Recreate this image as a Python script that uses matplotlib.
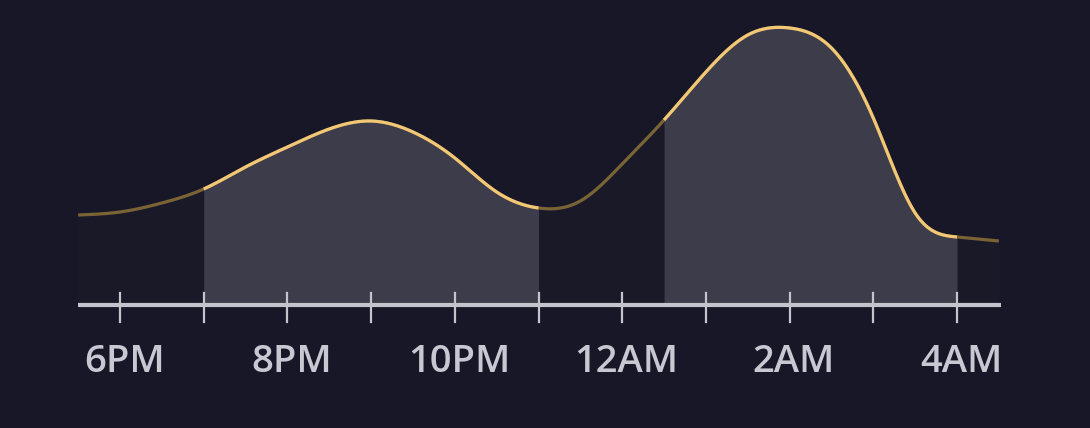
import numpy as np
import matplotlib
matplotlib.use("Agg")
import matplotlib.pyplot as plt

# hours since midnight of the first day (24 = 12AM), every half hour
hours = [17.5, 18, 18.5, 19, 19.5, 20, 20.5, 21, 21.5, 22, 22.5, 23,
         23.5, 24, 24.5, 25, 25.5, 26, 26.5, 27, 27.5, 28, 28.5]
values = [90, 93, 102, 116, 138, 158, 176, 184, 173, 147, 113, 97,
          104, 141, 185, 233, 270, 277, 257, 187, 92, 68, 64]

highlights = [(19, 23), (24.5, 28)]
tick_hours = [18, 19, 20, 21, 22, 23, 24, 25, 26, 27, 28]
label_hours = [18, 20, 22, 24, 26, 28]
labels = ["6PM", "8PM", "10PM", "12AM", "2AM", "4AM"]

bg = "#171727"
gold = "#f2c877"
gold_dim = "#7a6435"


def natural_spline(x, y, n=40):
    # natural cubic spline, only used to draw a smooth line
    x = np.asarray(x, float)
    y = np.asarray(y, float)
    k = len(x)
    h = np.diff(x)
    A = np.zeros((k, k))
    r = np.zeros(k)
    A[0, 0] = A[-1, -1] = 1
    for i in range(1, k - 1):
        A[i, i - 1] = h[i - 1]
        A[i, i] = 2 * (h[i - 1] + h[i])
        A[i, i + 1] = h[i]
        r[i] = 6 * ((y[i + 1] - y[i]) / h[i] - (y[i] - y[i - 1]) / h[i - 1])
    M = np.linalg.solve(A, r)
    xs, ys = [], []
    for i in range(k - 1):
        t = np.linspace(x[i], x[i + 1], n, endpoint=False)
        a = x[i + 1] - t
        b = t - x[i]
        yy = (M[i] * a ** 3 + M[i + 1] * b ** 3) / (6 * h[i]) \
            + (y[i] / h[i] - M[i] * h[i] / 6) * a \
            + (y[i + 1] / h[i] - M[i + 1] * h[i] / 6) * b
        xs.append(t)
        ys.append(yy)
    xs.append([x[-1]])
    ys.append([y[-1]])
    return np.concatenate(xs), np.concatenate(ys)


sx, sy = natural_spline(hours, values)

fig = plt.figure(figsize=(10.9, 4.28), dpi=100, facecolor=bg)
ax = fig.add_axes([0, 0, 1, 1])
ax.set_facecolor(bg)
ppu = 83.7
x0 = 18 - 120 / ppu
ax.set_xlim(x0, x0 + 1090 / ppu)
ax.set_ylim(-123, 305)
ax.axis("off")

# faint fill under whole curve, brighter in highlighted windows
ax.fill_between(sx, 0, sy, color="#191928", lw=0)
ax.plot(sx, sy, color=gold_dim, lw=2.3, solid_capstyle="butt")
for a, b in highlights:
    m = (sx >= a) & (sx <= b)
    ax.fill_between(sx[m], 0, sy[m], color="#3c3c4a", lw=0)
    ax.plot(sx[m], sy[m], color=gold, lw=2.3, solid_capstyle="butt")

# axis line and ticks
ax.plot([hours[0], hours[-1] + 0.02], [0, 0], color="#c4c4cc", lw=3.0,
        solid_capstyle="butt", zorder=5)
for h in tick_hours:
    ax.plot([h, h], [-17, 12], color="#c4c4cc", lw=1.6, zorder=5)

for h, lab in zip(label_hours, labels):
    ax.text(h + 0.05, -67, lab, ha="center", va="baseline", color="#c8c8d2",
            fontsize=27.5, family=["Open Sans", "DejaVu Sans"], fontweight="semibold")

fig.savefig("out.png", dpi=100, facecolor=bg)
